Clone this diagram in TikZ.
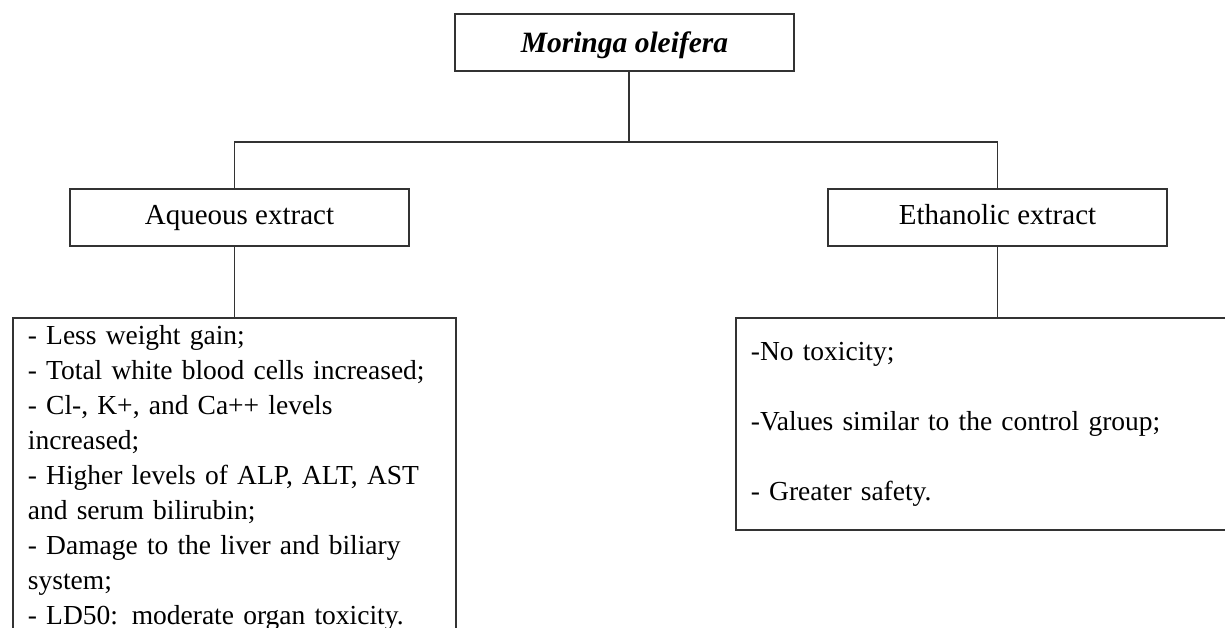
\documentclass[tikz,border=0pt]{standalone}
\usepackage{fontspec}
\setmainfont{Liberation Serif}
\usepackage{tikz}
\usepackage{xcolor}
\usetikzlibrary{positioning}
\hyphenpenalty=10000

\tikzset{
    box/.style={draw=black!80, solid, line width=1.8pt, rectangle, fill=white, font=\fontsize{27.5}{35}\selectfont},
    headbox/.style={box, minimum height=57pt, minimum width=339pt, inner sep=0pt, text height=21pt, text depth=6pt, font=\fontsize{29}{35}\selectfont},
    listbox/.style={box, align=left, anchor=north west},
    link/.style={draw=black!80, line width=1.8pt}
}

\begin{document}
\begin{tikzpicture}[x=1pt, y=-1pt]

        \useasboundingbox (0,0) rectangle (1225,628);

        % Box Nodes
        \node (moringa) at (624.5,42.5) [headbox, text height=24pt, text depth=4.5pt, font=\fontsize{29.5}{35}\selectfont\bfseries\itshape] {Moringa oleifera};
        \node (aqueous) at (239.5,217.5) [headbox] {Aqueous extract};
        \node (ethanolic) at (997.5,217.5) [headbox] {Ethanolic extract};

        % Effect Nodes
        \node (aqueousfx) at (12,317) [listbox, text width=413pt, inner xsep=15pt, inner ysep=8pt] {%
            - Less weight gain;\\
            - Total white blood cells increased;\\
            - Cl-, K+, and Ca++ levels\\
            increased;\\
            - Higher levels of ALP, ALT, AST\\
            and serum bilirubin;\\
            - Damage to the liver and biliary\\
            system;\\
            - LD50: moderate organ toxicity.};
        \node (ethanolicfx) at (735,317) [listbox, text width=490pt, inner xsep=15pt, inner ysep=24pt] {%
            -No toxicity;\\[35pt]
            -Values similar to the control group;\\[35pt]
            - Greater safety.};

        % Lines
        \coordinate (bus) at (629,142);
        \draw[link] (moringa.south -| bus) -- (bus);
        \draw[link] (aqueousfx.north |- aqueous.north) -- (aqueousfx.north |- bus) -- (ethanolic.north |- bus) -- (ethanolic.north);
        \draw[link] (aqueousfx.north |- aqueous.south) -- (aqueousfx.north);
        \draw[link] (ethanolic.south) -- (ethanolic.south |- ethanolicfx.north);

    \end{tikzpicture}
\end{document}
